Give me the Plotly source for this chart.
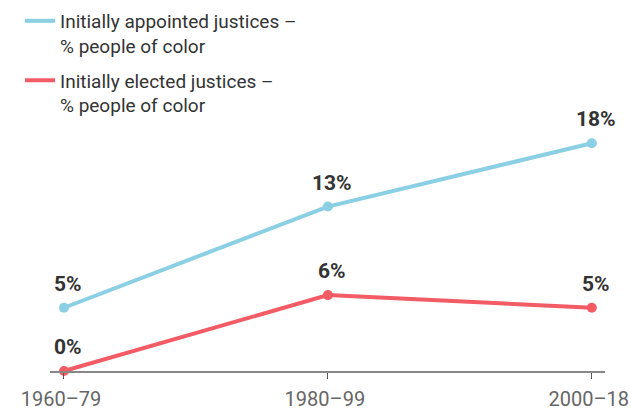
import plotly.graph_objects as go

periods = ["1960–79", "1980–99", "2000–18"]
appointed = [5, 13, 18]
elected = [0, 6, 5]
appointed_name = "Initially appointed justices –<br>% people of color"
elected_name = "Initially elected justices –<br>% people of color"

BLUE = "#8acfe3"
RED = "#f35b65"
FONT = "Roboto"
W, H = 631, 411

xs = list(range(len(periods)))
fig = go.Figure()
for vals, name, col in [(appointed, appointed_name, BLUE), (elected, elected_name, RED)]:
    fig.add_trace(go.Scatter(
        x=xs, y=vals, mode="lines+markers", showlegend=False, legendgroup=name,
        line=dict(color=col, width=4), marker=dict(color=col, size=10),
        cliponaxis=False, hoverinfo="skip"))
    fig.add_trace(go.Scatter(
        x=[None], y=[None], mode="lines", name=name, legendgroup=name,
        line=dict(color=col, width=4)))
    for x, v in zip(xs, vals):
        fig.add_annotation(x=x, y=v, text=f"<b>{v}%</b>", showarrow=False,
                           xshift=4, yshift=24,
                           font=dict(family=FONT, size=21, color="#333333"))

fig.update_layout(
    template="none",
    width=W, height=H,
    margin=dict(l=0, r=0, t=0, b=0, autoexpand=False),
    paper_bgcolor="white", plot_bgcolor="white",
    font=dict(family=FONT, color="#333333"),
    legend=dict(x=20 / W, y=1 - 2 / H, xanchor="left", yanchor="top",
                font=dict(family=FONT, size=19, color="#333333"),
                valign="top", tracegroupgap=7, bgcolor="rgba(0,0,0,0)"),
    xaxis=dict(domain=[50 / W, 605 / W], range=[-0.053, 2.05], automargin=False,
               tickmode="array", tickvals=xs, ticktext=periods, ticklabelshift=-3,
               ticklabelstandoff=3,
               showgrid=False, zeroline=False, showline=True, linecolor="#888888",
               linewidth=1.5, ticks="outside", ticklen=6, tickcolor="#555555",
               tickfont=dict(family=FONT, size=20, color="#666666")),
    yaxis=dict(domain=[40 / H, (H - 118) / H], range=[0, 20], visible=False,
               automargin=False, showgrid=False, zeroline=False),
)

fig.write_html("out.html", config={"displayModeBar": False},
               post_script="document.body.style.margin='0';document.body.style.padding='0';")
